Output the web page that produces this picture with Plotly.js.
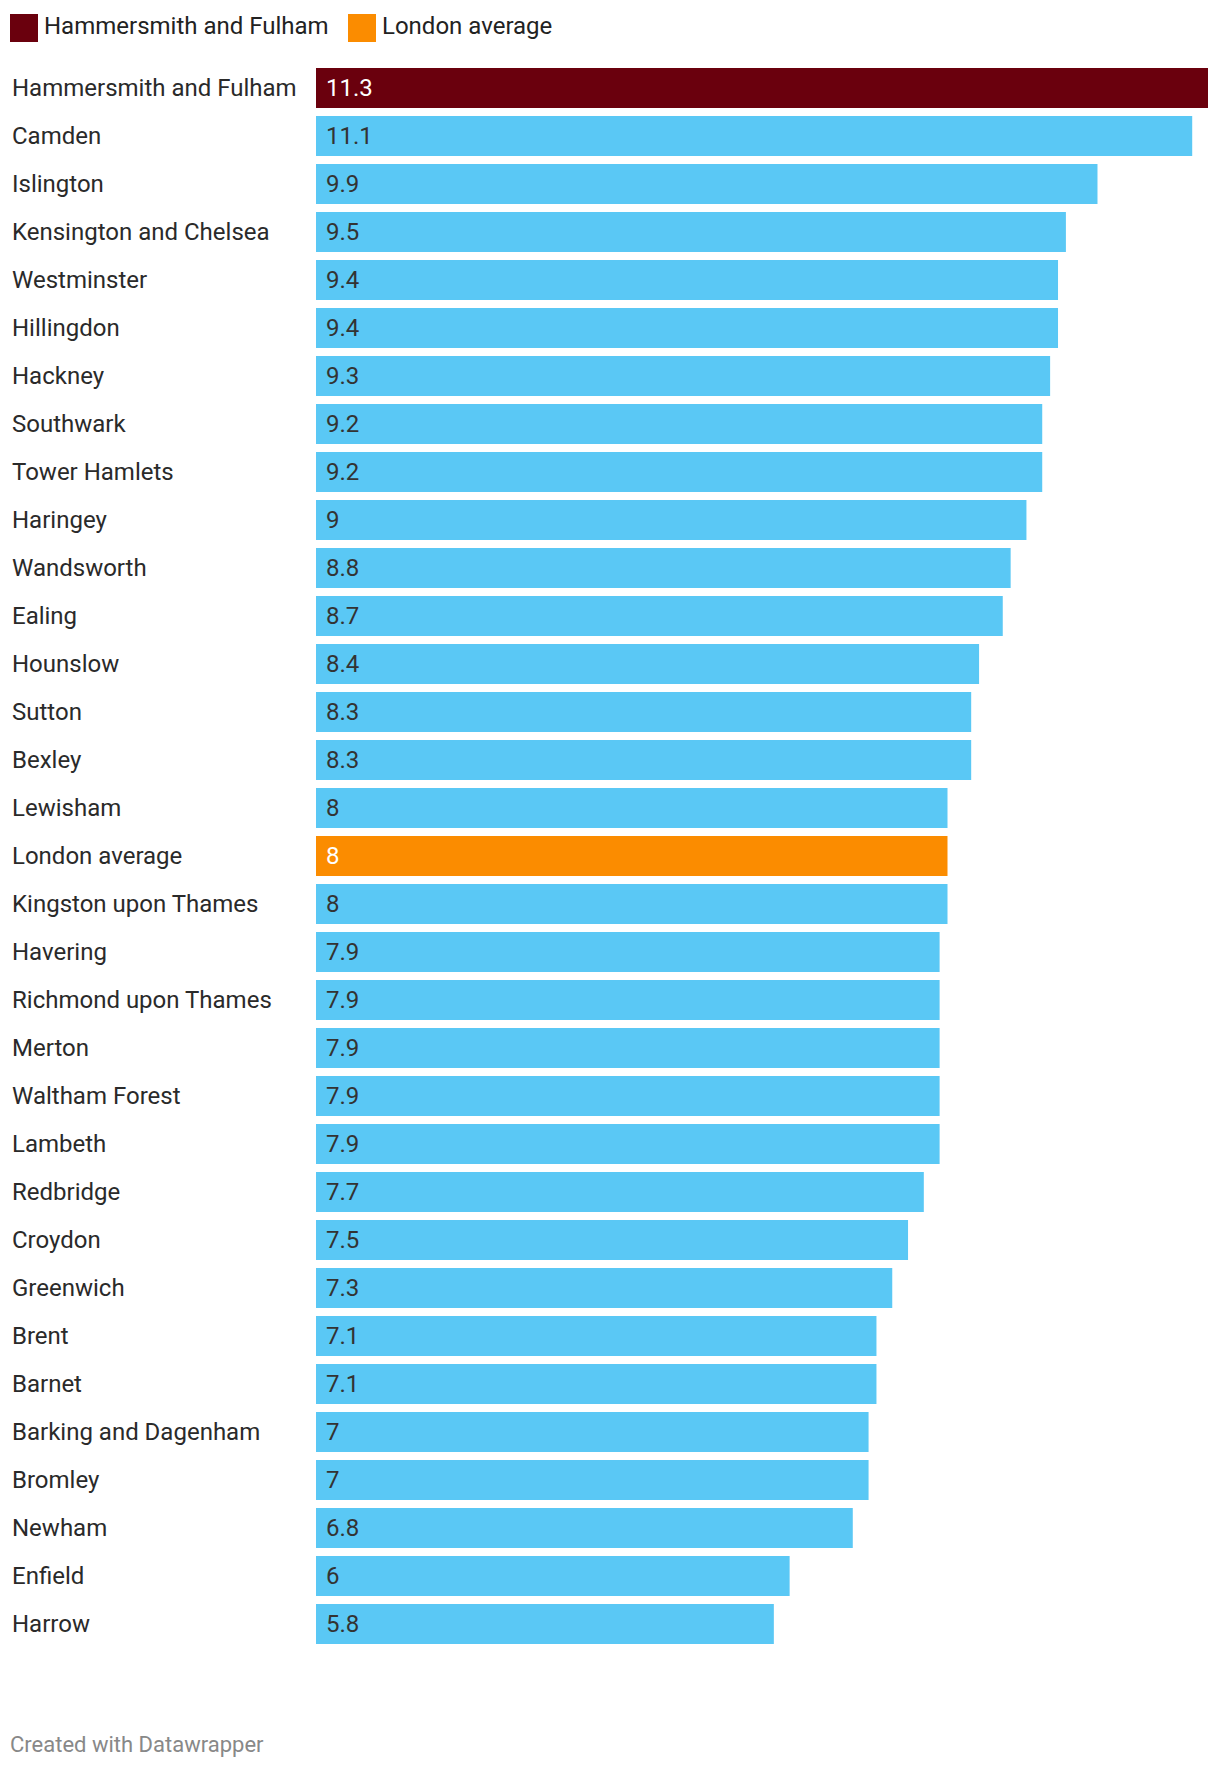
<!DOCTYPE html>
<html>
<head>
<meta charset="utf-8">
<script src="https://cdn.plot.ly/plotly-3.0.1.min.js"></script>
<style>html,body{margin:0;padding:0;background:#fff;}#chart{width:1220px;height:1770px;}</style>
</head>
<body>
<div id="chart"></div>
<script>
// ---- data ----
const boroughs = [
  "Hammersmith and Fulham","Camden","Islington","Kensington and Chelsea","Westminster",
  "Hillingdon","Hackney","Southwark","Tower Hamlets","Haringey","Wandsworth","Ealing",
  "Hounslow","Sutton","Bexley","Lewisham","London average","Kingston upon Thames",
  "Havering","Richmond upon Thames","Merton","Waltham Forest","Lambeth","Redbridge",
  "Croydon","Greenwich","Brent","Barnet","Barking and Dagenham","Bromley","Newham",
  "Enfield","Harrow"
];
const values = [
  11.3,11.1,9.9,9.5,9.4,9.4,9.3,9.2,9.2,9,8.8,8.7,8.4,8.3,8.3,8,8,8,
  7.9,7.9,7.9,7.9,7.9,7.7,7.5,7.3,7.1,7.1,7,7,6.8,6,5.8
];
const valueLabels = [
  "11.3","11.1","9.9","9.5","9.4","9.4","9.3","9.2","9.2","9","8.8","8.7","8.4","8.3","8.3","8","8","8",
  "7.9","7.9","7.9","7.9","7.9","7.7","7.5","7.3","7.1","7.1","7","7","6.8","6","5.8"
];
const highlightName = "Hammersmith and Fulham";
const averageName = "London average";
const legendLabels = ["Hammersmith and Fulham", "London average"];
const footerText = "Created with Datawrapper";

// ---- styles ----
const C_HIGH = "#6a000d", C_AVG = "#fb8c00", C_BASE = "#5ac8f5";
const W = 1220, H = 1770;
const M = {l: 316, r: 12, t: 64, b: 122};
const PW = W - M.l - M.r, PH = H - M.t - M.b;
const FONT = "Roboto, 'Noto Sans', sans-serif";
const px2x = p => (p - M.l) / PW;
const py2y = p => (H - M.b - p) / PH;

const colors = boroughs.map(b => b === highlightName ? C_HIGH : (b === averageName ? C_AVG : C_BASE));
const labelColors = boroughs.map(b => (b === highlightName || b === averageName) ? "#ffffff" : "#333333");

const trace = {
  type: "bar", orientation: "h",
  x: values, y: boroughs,
  marker: {color: colors, line: {width: 0}},
  hoverinfo: "none", showlegend: false
};

const annotations = [];
boroughs.forEach((b, i) => {
  annotations.push({
    xref: "paper", yref: "y", x: px2x(10), y: b, xanchor: "left", yanchor: "middle",
    text: b, showarrow: false, font: {family: FONT, size: 24, color: "#2a2a2a"}
  });
  annotations.push({
    xref: "x", yref: "y", x: 0, y: b, xanchor: "left", yanchor: "middle", xshift: 8,
    text: valueLabels[i], showarrow: false, font: {family: FONT, size: 24, color: labelColors[i]}
  });
});
// legend
const legendItems = [
  {sq: 10, tx: 41.5, color: C_HIGH, label: legendLabels[0]},
  {sq: 348, tx: 380, color: C_AVG, label: legendLabels[1]}
];
const shapes = [];
legendItems.forEach(it => {
  shapes.push({type: "rect", xref: "paper", yref: "paper",
    x0: px2x(it.sq), x1: px2x(it.sq + 28), y0: py2y(42), y1: py2y(14),
    fillcolor: it.color, line: {width: 0}});
  annotations.push({xref: "paper", yref: "paper", x: px2x(it.tx), y: py2y(26),
    xanchor: "left", yanchor: "middle", text: it.label, showarrow: false,
    font: {family: FONT, size: 24, color: "#222222"}});
});
annotations.push({xref: "paper", yref: "paper", x: px2x(8), y: py2y(1744),
  xanchor: "left", yanchor: "middle", text: footerText, showarrow: false,
  font: {family: FONT, size: 22, color: "#888888"}});

const layout = {
  width: W, height: H,
  margin: M,
  paper_bgcolor: "#ffffff", plot_bgcolor: "#ffffff",
  bargap: 8/48,
  xaxis: {range: [0, 11.3], visible: false, fixedrange: true},
  yaxis: {type: "category", autorange: false, range: [boroughs.length - 0.5, -0.5],
          showticklabels: false, showgrid: false, zeroline: false, showline: false, ticks: ""},
  shapes: shapes,
  annotations: annotations,
  showlegend: false
};

Plotly.newPlot("chart", [trace], layout, {staticPlot: true, displayModeBar: false});
</script>
</body>
</html>
